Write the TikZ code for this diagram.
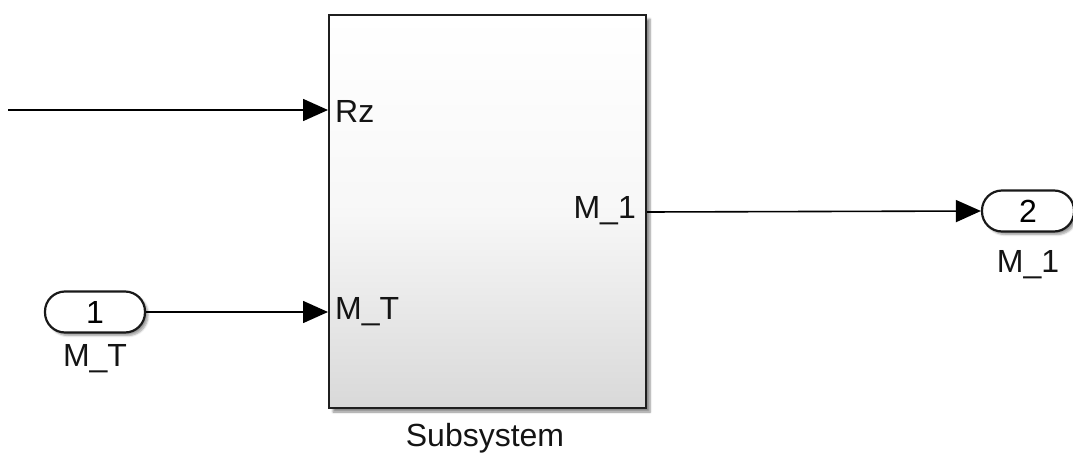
\documentclass[tikz,border=0pt]{standalone}
\usepackage{fontspec}
\setmainfont{Liberation Sans}
\usetikzlibrary{arrows.meta,shadows.blur}
\begin{document}
\begin{tikzpicture}[x=1pt,y=-1pt,
  font=\fontsize{32}{38}\selectfont,
  sig/.style={line width=1.6pt, draw=black, -{Triangle[length=25pt,width=22pt]}},
  subbox/.style={draw=black!88, line width=2.6pt, minimum width=317pt, minimum height=393pt,
    inner sep=0pt, top color=white, bottom color=black!15, middle color=black!3,
    blur shadow={shadow xshift=4pt, shadow yshift=-4pt, shadow blur steps=6, shadow opacity=45}},
  portpill/.style={draw=black!90, line width=2.2pt, fill=white, rounded corners=20pt,
    minimum height=41pt, inner sep=0pt,
    blur shadow={shadow xshift=3pt, shadow yshift=-3pt, shadow blur steps=5, shadow opacity=40}},
  lbl/.style={inner sep=0pt, text=black!92}
]
\useasboundingbox (0,0) rectangle (1073,455);

% Subsystem block
\node[subbox] (sub) at (487.5,211.5) {};
\node[lbl] (subname) at (485,438) {Subsystem};

% port positions on the block
\coordinate (pRz) at (328,110);
\coordinate (pMT) at (328,312);
\coordinate (pM1) at (647,212);
\node[lbl, anchor=west] (tRz) at (335,111) {Rz};
\node[lbl, anchor=west] (tMT) at (335,312) {M\_T};
\node[lbl, anchor=east] (tM1) at (636,211) {M\_1};

% inport 1
\node[portpill, minimum width=100pt] (in1) at (95,312) {1};
\node[lbl] (in1name) at (95,359) {M\_T};

% outport 2
\node[portpill, minimum width=92pt] (out2) at (1028,211) {2};
\node[lbl] (out2name) at (1028,265) {M\_1};

% signal lines
\coordinate (src) at (8,110);
\draw[sig] (src) -- (pRz);
\draw[sig] (in1.east) -- (pMT);
\draw[sig] (pM1) -- (out2.west);
\end{tikzpicture}
\end{document}
